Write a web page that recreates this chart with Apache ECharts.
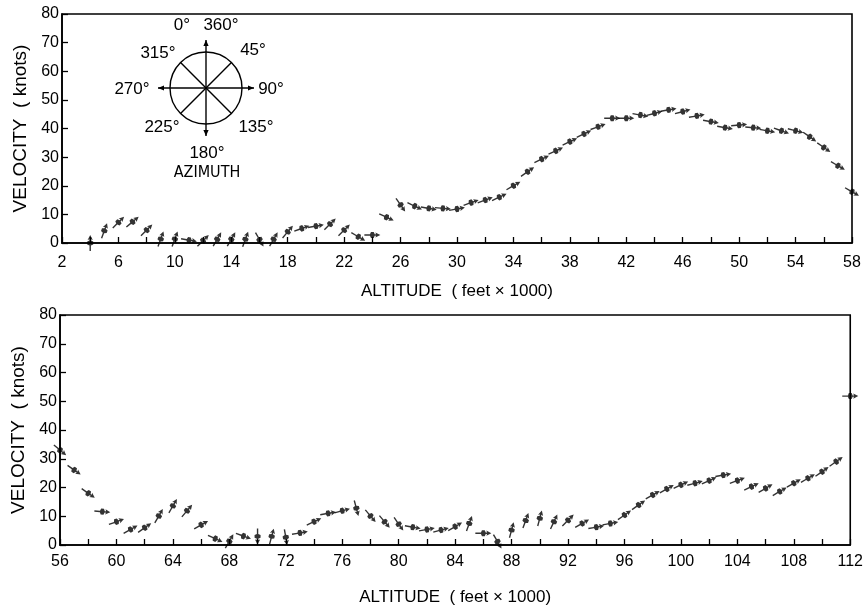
<!DOCTYPE html>
<html>
<head>
<meta charset="utf-8">
<script src="https://cdn.jsdelivr.net/npm/echarts@6/dist/echarts.min.js"></script>
<style>
html,body{margin:0;padding:0;background:#fff;}
#chart{width:866px;height:611px;}
</style>
</head>
<body>
<div id="chart"></div>
<script>
// ---- Data (altitude in thousands of feet, velocity in knots, azimuth in degrees) ----
const topAlt = [4,5,6,7,8,9,10,11,12,13,14,15,16,17,18,19,20,21,22,23,24,25,26,27,28,29,30,31,32,33,34,35,36,37,38,39,40,41,42,43,44,45,46,47,48,49,50,51,52,53,54,55,56,57,58];
const topVel = [0,4.3,7.2,7.4,4.5,1.4,1.4,1.0,0.8,1.3,1.3,1.3,1.2,1.3,3.9,5.1,5.9,6.6,4.5,2.2,2.8,9.0,13.3,12.9,12.1,12.1,11.9,14.1,15.0,16.0,20.0,24.9,29.3,32.2,35.4,38.1,40.6,43.6,43.6,44.7,45.3,46.5,45.9,44.4,42.4,40.3,41.2,40.3,39.2,39.2,39.2,37.1,33.4,27.0,17.9];
const topAzi = [0,20,45,50,45,20,20,100,45,30,30,20,150,30,40,70,80,45,45,120,90,115,145,115,100,95,80,70,70,65,60,55,65,65,65,65,70,90,90,100,75,80,75,80,100,100,85,95,100,110,105,125,125,120,120];

const botAlt = [56,57,58,59,60,61,62,63,64,65,66,67,68,69,70,71,72,73,74,75,76,77,78,79,80,81,82,83,84,85,86,87,88,89,90,91,92,93,94,95,96,97,98,99,100,101,102,103,104,105,106,107,108,109,110,111,112];
const botVel = [33,26.1,18,11.6,8.1,5.4,6.0,10.1,13.6,11.9,7.0,2.2,1.3,3.1,3.0,3.0,2.7,4.2,8.1,11.0,11.9,12.8,10.1,8.1,7.3,6.2,5.4,5.2,6.4,7.5,4.1,1.2,5.2,8.5,9.3,8.1,8.6,7.5,6.2,7.5,10.4,13.9,17.4,19.5,20.9,21.5,22.4,24.3,22.4,20.3,19.7,18.6,21.5,23.2,25.5,29.0,51.8];
const botAzi = [130,125,125,95,70,60,55,30,30,40,60,115,30,110,180,15,170,80,65,80,75,165,140,140,145,100,80,75,60,20,90,150,15,20,15,25,45,60,80,80,55,55,60,60,65,75,65,80,70,65,60,60,60,60,55,55,90];

const xNameText = 'ALTITUDE  ( feet × 1000)';
const yNameText = 'VELOCITY  ( knots)';
const compassLabels = ['0°','360°','315°','45°','270°','90°','225°','135°','180°','AZIMUTH'];

const FONT = '"Liberation Sans", Arial, sans-serif';
const NARROW = '"Liberation Sans Narrow", "DejaVu Sans Condensed", "Liberation Sans", sans-serif';

// needle symbol pointing up (azimuth 0), dot in the middle
const NEEDLE = 'path://M3,0 L5.6,5 L3.7,4.3 L3.7,5.6 L6,6.6 L6,9.4 L3.7,10.4 L3.7,16 L2.3,16 L2.3,10.4 L0,9.4 L0,6.6 L2.3,5.6 L2.3,4.3 L0.4,5 Z';

function buildData(alt, vel, azi) {
  return alt.map((a, i) => ({ value: [a, vel[i]], symbolRotate: -azi[i] }));
}

function xAxisCfg(gi, min, max, gap, margin) {
  return {
    gridIndex: gi, type: 'value', min: min, max: max, interval: 2,
    axisLine: { show: true, onZero: false, lineStyle: { color: '#000', width: 1.6 } },
    axisTick: { show: true, inside: true, length: 6, lineStyle: { color: '#000', width: 1.3 } },
    splitLine: { show: false },
    axisLabel: { color: '#000', fontSize: 16, margin: margin, fontFamily: FONT,
      formatter: v => ((v - min) % 4 === 0 ? String(v) : '') },
    name: xNameText, nameLocation: 'middle', nameGap: gap,
    nameTextStyle: { color: '#000', fontSize: 17, fontFamily: FONT }
  };
}
function yAxisCfg(gi, gap) {
  return {
    gridIndex: gi, type: 'value', min: 0, max: 80, interval: 10,
    axisLine: { show: true, onZero: false, lineStyle: { color: '#000', width: 1.6 } },
    axisTick: { show: true, inside: true, length: 6, lineStyle: { color: '#000', width: 1.3 } },
    splitLine: { show: false },
    axisLabel: { color: '#000', fontSize: 16, margin: 3, fontFamily: FONT },
    name: yNameText, nameLocation: 'middle', nameGap: gap, nameRotate: 90,
    nameTextStyle: { color: '#000', fontSize: 19, fontFamily: FONT }
  };
}

// compass inset graphic
const cx = 206, cy = 88, r = 36, L = 48;
const d = r * Math.SQRT1_2;
function head(x, y, ang) {
  const s = 6, w = 2.6;
  const bx = x - s * Math.cos(ang), by = y - s * Math.sin(ang);
  const px = -Math.sin(ang) * w, py = Math.cos(ang) * w;
  return { type: 'polygon', shape: { points: [[x, y], [bx + px, by + py], [bx - px, by - py]] }, style: { fill: '#000' } };
}
const labelPos = [[182,25],[221,25],[158,53],[253,50],[132,89],[271,89],[162,127],[256,127],[207,153],[207,173]];
const graphics = [
  { type: 'circle', shape: { cx: cx, cy: cy, r: r }, style: { fill: 'none', stroke: '#000', lineWidth: 1.4 } },
  { type: 'line', shape: { x1: cx, y1: cy - L, x2: cx, y2: cy + L }, style: { stroke: '#000', lineWidth: 1.4 } },
  { type: 'line', shape: { x1: cx - L, y1: cy, x2: cx + L, y2: cy }, style: { stroke: '#000', lineWidth: 1.4 } },
  { type: 'line', shape: { x1: cx - d, y1: cy - d, x2: cx + d, y2: cy + d }, style: { stroke: '#000', lineWidth: 1.4 } },
  { type: 'line', shape: { x1: cx - d, y1: cy + d, x2: cx + d, y2: cy - d }, style: { stroke: '#000', lineWidth: 1.4 } },
  head(cx, cy - L, -Math.PI / 2), head(cx, cy + L, Math.PI / 2),
  head(cx - L, cy, Math.PI), head(cx + L, cy, 0)
];
compassLabels.forEach((t, i) => {
  graphics.push({
    type: 'text', x: labelPos[i][0], y: labelPos[i][1],
    style: { text: t, fill: '#000', fontSize: i === 9 ? 16 : 17, fontFamily: i === 9 ? NARROW : FONT, align: 'center', verticalAlign: 'middle' }
  });
});

const chart = echarts.init(document.getElementById('chart'), null, { renderer: 'canvas' });
chart.setOption({
  backgroundColor: '#fff',
  animation: false,
  grid: [
    { left: 62, top: 14, width: 790, height: 229, show: true, borderColor: '#000', borderWidth: 1.6, backgroundColor: 'transparent' },
    { left: 60, top: 315, width: 792, height: 230, show: true, borderColor: '#000', borderWidth: 1.6, backgroundColor: 'transparent' }
  ],
  xAxis: [xAxisCfg(0, 2, 58, 40, 12), xAxisCfg(1, 56, 112, 44, 9)],
  yAxis: [yAxisCfg(0, 24), yAxisCfg(1, 22)],
  series: [
    { type: 'scatter', xAxisIndex: 0, yAxisIndex: 0, symbol: NEEDLE, symbolSize: [6, 16], clip: false,
      itemStyle: { color: '#000' }, data: buildData(topAlt, topVel, topAzi) },
    { type: 'scatter', xAxisIndex: 1, yAxisIndex: 1, symbol: NEEDLE, symbolSize: [6, 16], clip: false,
      itemStyle: { color: '#000' }, data: buildData(botAlt, botVel, botAzi) }
  ],
  graphic: graphics
});
</script>
</body>
</html>
